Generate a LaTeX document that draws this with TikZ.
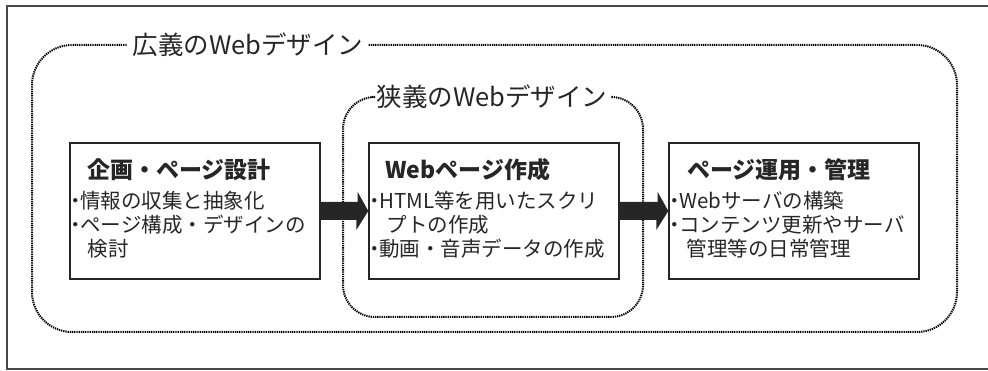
\documentclass[tikz,border=0pt]{standalone}
\usepackage{fontspec}
\setmainfont{Noto Sans CJK JP}
\usetikzlibrary{arrows.meta}
\definecolor{ink}{HTML}{262626}
\tikzset{
  frame/.style={draw=ink!85, line width=1.6pt},
  dotline/.style={draw=black, line width=2pt, dash pattern=on 1.3pt off 0.9pt},
  grouplabel/.style={inner sep=5pt, font=\fontsize{25.5}{29}\selectfont, text=ink},
  stagebox/.style={draw=ink, line width=1.4pt, minimum width=250pt, minimum height=136pt, inner sep=0pt},
  stagetitle/.style={anchor=base west, inner sep=0pt, font=\bfseries\fontsize{23}{27}\selectfont, text=ink},
  stagetext/.style={anchor=base west, inner sep=0pt, align=left, font=\fontsize{20.5}{24}\selectfont, text=ink},
  blockarrow/.style={fill=ink}
}
\newcommand{\bul}{\makebox[0.45em][c]{・}}
\newcommand{\cont}{\hspace*{0.8em}}
\begin{document}
\begin{tikzpicture}[x=1pt,y=-1pt]
\useasboundingbox (0,0) rectangle (988,371);
\draw[frame] (7,6) rectangle (1000,369);

% group labels
\node[grouplabel] (wide) at (248,45) {広義のWebデザイン};
\node[grouplabel] (narrow) at (492,97) {狭義のWebデザイン};

% stage boxes
\node[stagebox] (b1) at (195,211) {};
\node[stagebox] (b2) at (494,211) {};
\node[stagebox] (b3) at (794,211) {};

% dotted group outlines
\draw[dotline, rounded corners=40pt] (wide.east) -- (957,45) -- (957,332) -- (32,332) -- (32,45) -- (wide.west);
\draw[dotline, rounded corners=32pt] (narrow.east) -- (643,97) -- (643,317) -- (343,317) -- (343,97) -- (narrow.west);

% titles
\node[stagetitle] (t1) at (87,179) {企画・ページ設計};
\node[stagetitle] (t2) at (385,179) {Webページ作成};
\node[stagetitle] (t3) at (687,179) {ページ運用・管理};

% bullet texts (base anchor = last line baseline)
\node[stagetext] (s1) at (71,257) {\bul 情報の収集と抽象化\\\bul ページ構成・デザインの\\\cont 検討};
\node[stagetext] (s2) at (370,257) {\bul HTML等を用いたスクリ\\\cont プトの作成\\\bul 動画・音声データの作成};
\node[stagetext] (s3) at (670,257) {\bul Webサーバの構築\\\bul コンテンツ更新やサーバ\\\cont 管理等の日常管理};

% block arrows
\fill[blockarrow] ([yshift=9pt]b1.east) -- ++(37,0) -- ++(0,-10) -- (b2.west) -- ++(-12,19) -- ++(0,-10) -- ([yshift=-9pt]b1.east) -- cycle;
\fill[blockarrow] ([yshift=9pt]b2.east) -- ++(38,0) -- ++(0,-10) -- (b3.west) -- ++(-12,19) -- ++(0,-10) -- ([yshift=-9pt]b2.east) -- cycle;
\end{tikzpicture}
\end{document}
